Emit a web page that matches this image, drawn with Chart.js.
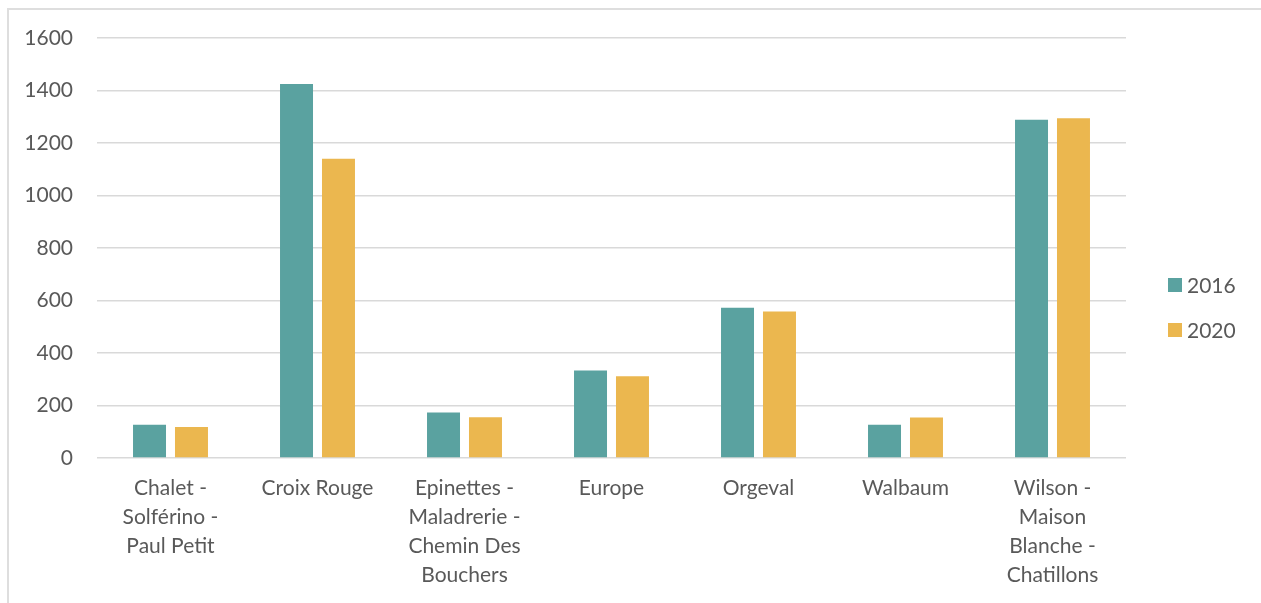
<!DOCTYPE html>
<html>
<head>
<meta charset="utf-8">
<script src="https://cdn.jsdelivr.net/npm/chart.js@4/dist/chart.umd.min.js"></script>
<style>
  html, body { margin: 0; padding: 0; background: #fff; }
  #wrap { position: relative; width: 1261px; height: 603px; overflow: hidden; }
  #frame {
    position: absolute; left: 7px; top: 8px; right: -10px; bottom: -10px;
    border-left: 2px solid #dedede; border-top: 2px solid #dedede;
  }
  #chart { position: absolute; left: 0; top: 0; }
</style>
</head>
<body>
<div id="wrap">
  <div id="frame"></div>
  <canvas id="chart" width="1261" height="603"></canvas>
</div>
<script>
// quartiers and counts per year
var quartiers = [
    ['Chalet -', 'Solférino -', 'Paul Petit'],
    'Croix Rouge',
    ['Epinettes -', 'Maladrerie -', 'Chemin Des', 'Bouchers'],
    'Europe',
    'Orgeval',
    'Walbaum',
    ['Wilson -', 'Maison', 'Blanche -', 'Chatillons']
];
var annees = ['2016', '2020'];
var valeurs2016 = [127, 1425, 173, 333, 572, 127, 1289];
var valeurs2020 = [118, 1140, 155, 311, 558, 154, 1294];
var yTicks = [0, 200, 400, 600, 800, 1000, 1200, 1400, 1600];

var textColor = '#595959';
var fontFamily = 'Lato, "Open Sans", sans-serif';
var fontSize = 21;

// legend drawn on the right, one square + label per dataset
var sideLegend = {
    id: 'sideLegend',
    afterDraw: function(chart) {
        var ctx = chart.ctx;
        ctx.save();
        ctx.font = fontSize + 'px ' + fontFamily;
        ctx.textBaseline = 'middle';
        ctx.textAlign = 'left';
        chart.data.datasets.forEach(function(ds, i) {
            var cy = 285 + i * 45;
            ctx.fillStyle = ds.backgroundColor;
            ctx.fillRect(1168, cy - 7, 14, 14);
            ctx.fillStyle = textColor;
            ctx.fillText(ds.label, 1187, cy + 1);
        });
        ctx.restore();
    }
};

var chart = new Chart(document.getElementById('chart'), {
    type: 'bar',
    data: {
        labels: quartiers,
        datasets: [
            { label: annees[0], data: valeurs2016, backgroundColor: '#5aa2a0' },
            { label: annees[1], data: valeurs2020, backgroundColor: '#ebb74f' }
        ]
    },
    options: {
        responsive: false,
        animation: false,
        devicePixelRatio: 1,
        layout: { padding: { left: 0, top: 38, right: 135, bottom: 0 } },
        datasets: {
            bar: { categoryPercentage: 0.571, barPercentage: 0.786 }
        },
        plugins: {
            legend: { display: false },
            tooltip: { enabled: false }
        },
        scales: {
            x: {
                grid: { display: false },
                border: { display: false },
                ticks: {
                    color: textColor,
                    font: { family: fontFamily, size: fontSize, lineHeight: 1.38 },
                    padding: 8,
                    maxRotation: 0,
                    autoSkip: false
                },
                afterFit: function(scale) { scale.height = 145; }
            },
            y: {
                min: 0,
                max: 1600,
                afterBuildTicks: function(scale) {
                    scale.ticks = yTicks.map(function(v) { return { value: v }; });
                },
                grid: { color: '#d9d9d9', lineWidth: 1.5, drawTicks: false },
                border: { display: false },
                ticks: {
                    color: textColor,
                    font: { family: fontFamily, size: fontSize },
                    padding: 24,
                    callback: function(v) { return String(v); }
                },
                afterFit: function(scale) { scale.width = 97; }
            }
        }
    },
    plugins: [sideLegend]
});
</script>
</body>
</html>
